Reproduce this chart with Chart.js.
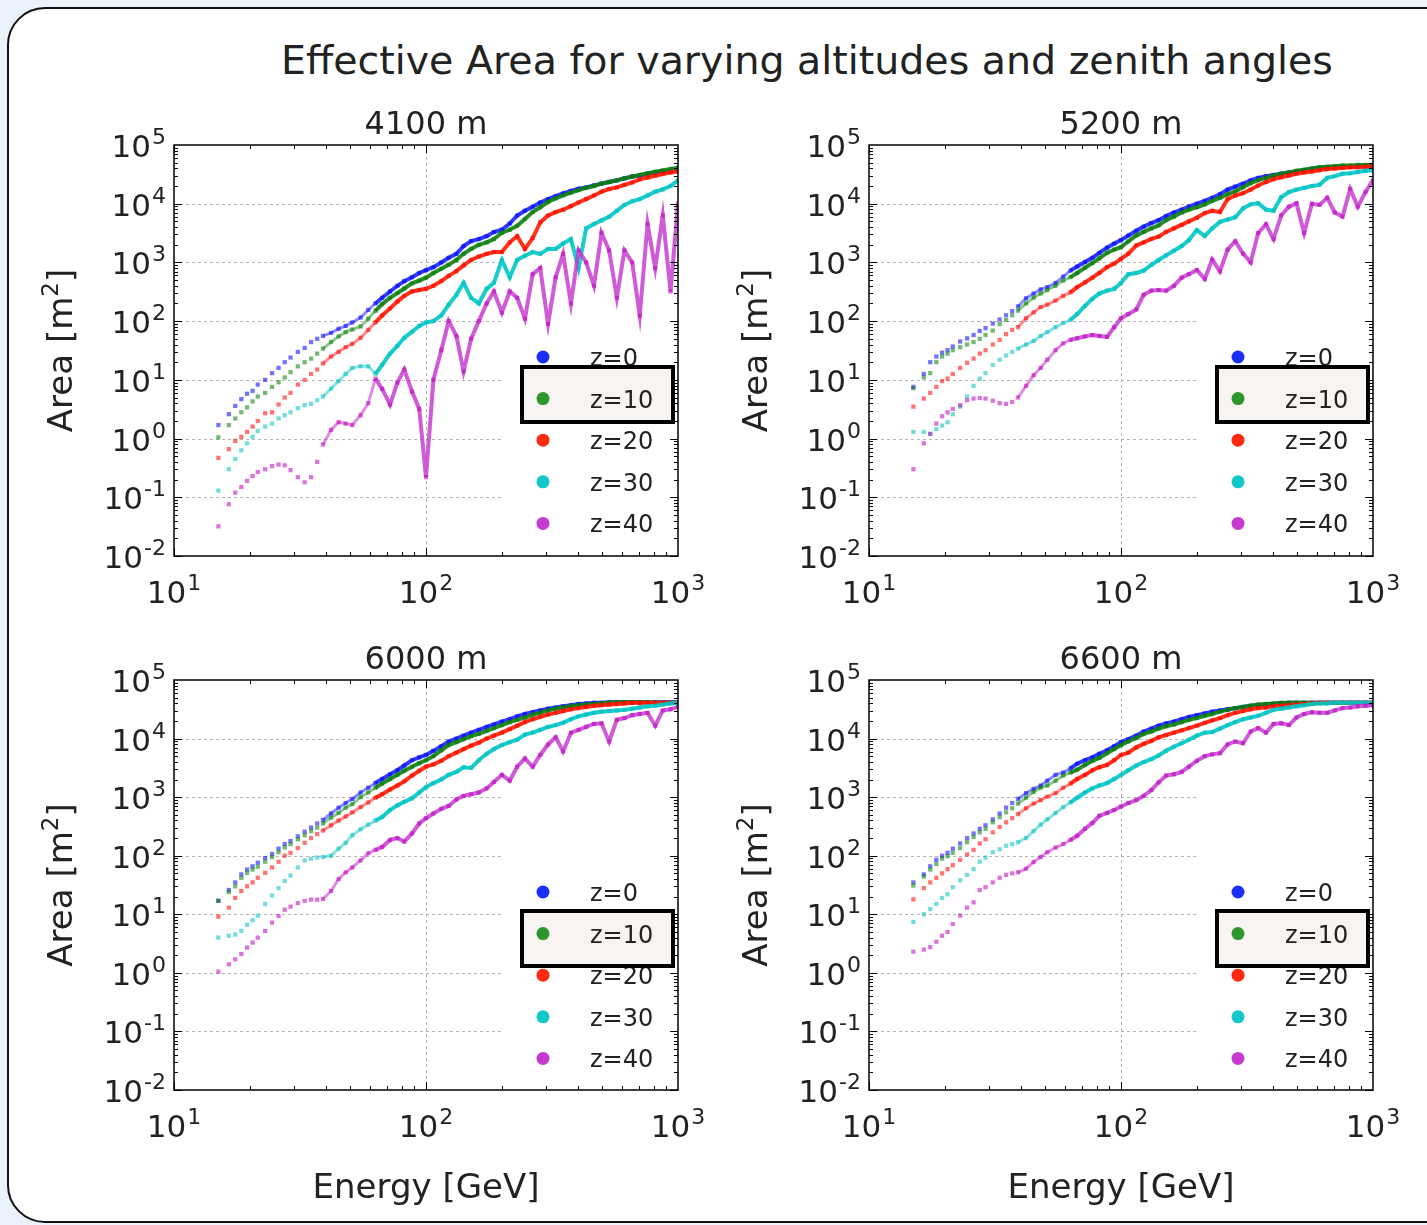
<!DOCTYPE html>
<html>
<head>
<meta charset="utf-8">
<script src="https://cdn.jsdelivr.net/npm/chart.js@4.4.1/dist/chart.umd.min.js"></script>
<style>
  html, body { margin: 0; padding: 0; width: 1427px; height: 1225px; overflow: hidden; background: #eaf2fb; }
  #frame { position: absolute; left: 7px; top: 7px; width: 1460px; height: 1216px; box-sizing: border-box;
           border: 2.5px solid #111; border-radius: 38px; background: #fff; }
  #title { position: absolute; left: 0; top: 41px; width: 1614px; text-align: center; white-space: nowrap;
           font: 39.5px/39px "DejaVu Sans", sans-serif; color: #222; }
  canvas { position: absolute; }
</style>
</head>
<body>
<div id="frame"></div>
<div id="title">Effective Area for varying altitudes and zenith angles</div>
<canvas id="p4100" width="713" height="546" style="left:0;top:90px"></canvas>
<canvas id="p5200" width="714" height="546" style="left:713px;top:90px"></canvas>
<canvas id="p6000" width="713" height="589" style="left:0;top:636px"></canvas>
<canvas id="p6600" width="714" height="589" style="left:713px;top:636px"></canvas>
<script>
// energy bins [GeV], shared by all curves
const energyGeV = [15, 16.5, 17.5, 18.5, 19.5, 20.5, 21.5, 23, 24.5, 26, 27.5, 29, 31, 33, 35, 37, 39, 42, 45, 48,
  51, 55, 59, 63, 67, 72, 77, 82, 88, 94, 100, 107, 115, 123, 132, 141, 151, 162, 174, 186,
  200, 215, 230, 247, 265, 284, 305, 327, 350, 376, 403, 432, 464, 497, 533, 572, 613, 658, 705, 757,
  812, 870, 934, 1000];

const zLabels = ['z=0', 'z=10', 'z=20', 'z=30', 'z=40'];
const xTickValues = [10, 100, 1000];
const xTickExp = ['1', '2', '3'];
const yTickValues = [0.01, 0.1, 1, 10, 100, 1000, 10000, 100000];
const yTickExp = ['-2', '-1', '0', '1', '2', '3', '4', '5'];

// effective area [m^2]
const area4100z0 = [1.7, 2.6, 3.6, 4.7, 5.8, 6.5, 8.3, 10, 13, 16, 20, 24, 30, 35, 44, 50, 56, 63, 74, 83,
  95, 115, 155, 200, 250, 320, 400, 480, 560, 660, 740, 830, 1000, 1200, 1400, 1900, 2300, 2500, 2800, 3300,
  3600, 4600, 6300, 7600, 8900, 10500, 12000, 13500, 15000, 16500, 18000, 19000, 20500, 22000, 23500, 25000, 27000, 29000, 30000, 32000,
  34000, 35500, 36500, 38000];
const area4100z10 = [1.05, 1.7, 2.2, 2.8, 3.4, 4.3, 5.2, 6.0, 7.6, 9.1, 11, 13.5, 17, 20, 23, 28, 34, 44, 55, 65,
  72, 81, 110, 150, 195, 250, 300, 360, 440, 490, 550, 660, 780, 910, 1100, 1400, 1700, 2000, 2200, 2500,
  3200, 3600, 4200, 5500, 7200, 8700, 10700, 12300, 13800, 15500, 17000, 18600, 20000, 22000, 23500, 25000, 27000, 29000, 31000, 33000,
  35000, 37000, 39000, 41000];
const area4100z20 = [0.47, 0.66, 0.91, 1.07, 1.3, 1.6, 2.0, 2.7, 2.8, 3.8, 5.0, 6.0, 8.3, 10, 12.6, 15, 19, 25, 30, 36,
  41, 52, 71, 95, 125, 165, 215, 270, 320, 340, 355, 400, 480, 590, 710, 890, 1100, 1260, 1400, 1500,
  1500, 2200, 2800, 1700, 2600, 4800, 6300, 7200, 7900, 9100, 10500, 12000, 13800, 16000, 17800, 19000, 21000, 23000, 26000, 28000,
  30000, 32000, 34000, 35500];
const area4100z30 = [0.13, 0.30, 0.45, 0.63, 0.83, 1.07, 1.35, 1.6, 1.8, 2.2, 2.5, 2.8, 3.3, 3.7, 3.9, 4.5, 5.2, 7.1, 9.5, 12.6,
  16, 17, 17, 12.6, 18, 28, 38, 52, 66, 83, 95, 100, 125, 190, 280, 450, 250, 200, 355, 450,
  1100, 560, 1100, 1300, 1500, 1400, 1700, 1700, 2100, 2500, 800, 3800, 4500, 5200, 6000, 7600, 9500, 11000, 12000, 13800,
  16000, 17500, 20000, 25000];
const area4100z40 = [0.032, 0.076, 0.12, 0.15, 0.19, 0.23, 0.27, 0.30, 0.34, 0.36, 0.35, 0.29, 0.22, 0.18, 0.22, 0.40, 0.79, 1.4, 1.9, 1.8,
  1.7, 2.5, 4.0, 10.5, 7, 3.8, 9, 15, 6.3, 3.2, 0.22, 10, 32, 100, 56, 14, 50, 100, 200, 320,
  140, 320, 250, 110, 630, 800, 90, 560, 1400, 200, 1600, 1000, 400, 3200, 1600, 250, 1600, 1000, 125, 4500,
  800, 6300, 320, 10000];

const area5200z0 = [7.6, 12.6, 20, 25, 29, 32, 37, 45, 51, 58, 68, 76, 91, 107, 126, 148, 178, 245, 295, 347,
  380, 447, 575, 724, 850, 1020, 1200, 1450, 1780, 2090, 2400, 2880, 3470, 4070, 4680, 5250, 6170, 7080, 7940, 8910,
  10000, 11200, 12600, 14500, 17400, 19500, 21900, 25100, 27500, 29500, 30900, 32400, 33900, 35500, 37200, 38900, 40700, 41700, 41700, 42700,
  42700, 43600, 43600, 43600];
const area5200z10 = [7.2, 11, 13, 20, 25, 28, 32, 36, 40, 44, 50, 58, 69, 89, 105, 126, 151, 200, 251, 295,
  339, 400, 490, 562, 661, 813, 977, 1170, 1450, 1660, 1820, 2290, 2880, 3310, 3800, 4270, 5250, 6030, 7080, 7940,
  8710, 9770, 11200, 12600, 14500, 16200, 19100, 22400, 25100, 27500, 30200, 32400, 33900, 36300, 38000, 39800, 41700, 42700, 43600, 44700,
  44700, 45700, 45700, 45700];
const area5200z20 = [3.5, 4.8, 6.0, 7.6, 9.5, 10.5, 12.6, 16, 19.5, 23, 28, 32, 40, 48, 60, 71, 79, 112, 141, 174,
  191, 224, 269, 309, 380, 457, 550, 661, 832, 955, 1150, 1410, 1950, 2190, 2510, 2750, 3310, 3800, 4370, 5010,
  5750, 6920, 7590, 7240, 12000, 13800, 15100, 17400, 20400, 23400, 26300, 28200, 30200, 32400, 33900, 35500, 37200, 38900, 39800, 40700,
  41700, 41700, 42700, 42700];
const area5200z30 = [1.3, 1.3, 1.2, 1.45, 1.66, 1.9, 2.6, 3.5, 5.2, 7.9, 10.5, 13, 18, 22, 26, 30, 34, 40, 46, 56,
  65, 79, 93, 105, 132, 182, 240, 295, 331, 355, 447, 631, 661, 724, 912, 1100, 1320, 1580, 1900, 2400,
  3550, 2820, 3800, 4900, 5370, 5890, 8320, 9770, 10200, 7940, 7590, 12900, 15800, 17400, 18600, 20000, 20900, 27500, 29500, 32400,
  33100, 34700, 36300, 37200];
const area5200z40 = [0.30, 0.83, 1.2, 1.8, 2.4, 2.8, 3.2, 3.7, 4.5, 4.8, 4.9, 4.8, 4.4, 4.0, 3.9, 4.2, 5.0, 7.9, 12, 16,
  22, 32, 42, 48, 51, 55, 58, 56, 54, 79, 112, 132, 158, 282, 331, 339, 331, 398, 550, 631,
  741, 525, 1120, 708, 1660, 2290, 1410, 1000, 3160, 4470, 2510, 6310, 8910, 10200, 3160, 10000, 9550, 12600, 7080, 6030,
  17800, 8910, 15800, 25100];

const area6000z0 = [17, 26, 35, 48, 58, 66, 76, 91, 107, 132, 158, 178, 214, 257, 302, 355, 407, 525, 661, 794,
  933, 1200, 1450, 1740, 2040, 2450, 2880, 3470, 4270, 4790, 5250, 6170, 7410, 8910, 10000, 11200, 12600, 14100, 15800, 17400,
  19500, 21400, 24000, 26300, 28200, 30200, 32400, 33900, 35500, 37200, 38900, 39800, 40700, 40700, 41700, 41700, 41700, 41700, 41700, 41700,
  41700, 41700, 41700, 41700];
const area6000z10 = [17, 24, 30, 42, 51, 58, 65, 79, 95, 115, 138, 158, 191, 224, 263, 302, 355, 447, 537, 661,
  759, 1000, 1200, 1450, 1700, 2040, 2400, 2820, 3310, 3800, 4270, 5010, 6310, 7760, 8710, 9770, 11000, 12000, 13500, 15100,
  17000, 19100, 20900, 22900, 25700, 27500, 30200, 32400, 33900, 35500, 37200, 38000, 38900, 39800, 40700, 41700, 41700, 41700, 41700, 41700,
  40700, 40700, 40700, 40700];
const area6000z20 = [9.1, 13, 19, 25, 30, 35, 42, 51, 63, 79, 100, 112, 135, 166, 200, 234, 269, 331, 398, 468,
  550, 676, 813, 977, 1120, 1350, 1580, 1860, 2340, 2820, 3310, 3630, 4170, 5010, 5750, 6610, 7590, 8510, 10000, 11200,
  12600, 14500, 16600, 19100, 21400, 23400, 25700, 27500, 29500, 31600, 33100, 34700, 36300, 37200, 38000, 38900, 39800, 40700, 40700, 40700,
  40700, 40700, 40700, 40700];
const area6000z30 = [4.0, 4.3, 4.5, 5.2, 6.6, 7.9, 9.5, 15, 21, 28, 37, 46, 63, 83, 89, 93, 95, 100, 132, 166,
  224, 282, 339, 398, 457, 603, 724, 832, 955, 1200, 1480, 1740, 2000, 2400, 2690, 3240, 3160, 4270, 5500, 6610,
  7760, 8710, 9550, 11700, 12600, 14100, 15800, 17000, 18600, 21400, 24000, 25700, 27500, 28800, 29500, 30200, 30900, 32400, 33900, 35500,
  36300, 38000, 39800, 40700];
const area6000z40 = [1.05, 1.4, 1.7, 2.1, 2.7, 3.3, 4.0, 5.2, 7.2, 9.3, 12, 13.5, 15.5, 17, 17.8, 17.8, 18.2, 25, 40, 52,
  63, 83, 110, 126, 141, 186, 200, 174, 240, 355, 437, 525, 631, 708, 912, 1050, 1120, 1200, 1410, 1820,
  2400, 1910, 3310, 4570, 3310, 5250, 7940, 10500, 6030, 12600, 14100, 15800, 17800, 18200, 8910, 20900, 22400, 25100, 26300, 27500,
  16600, 30200, 31600, 34700];

const area6600z0 = [35, 48, 66, 85, 100, 112, 132, 162, 200, 240, 288, 331, 417, 525, 661, 794, 933, 1170, 1380, 1580,
  1910, 2400, 2630, 3090, 3720, 4270, 4790, 5500, 6310, 7410, 8710, 9770, 11200, 13200, 14800, 16600, 18200, 19500, 21400, 23400,
  25100, 26900, 28800, 30200, 31600, 33100, 34700, 36300, 37200, 38000, 38900, 39800, 40700, 40700, 40700, 40700, 40700, 40700, 40700, 40700,
  40700, 40700, 40700, 40700];
const area6600z10 = [31, 44, 58, 72, 89, 98, 112, 135, 170, 209, 251, 288, 372, 457, 550, 646, 776, 977, 1230, 1450,
  1580, 1910, 2340, 2630, 2950, 3550, 4170, 4680, 5620, 6610, 7760, 8910, 10200, 12000, 13200, 14800, 16200, 17400, 19100, 20900,
  22400, 24500, 26300, 28800, 30900, 33100, 34700, 36300, 38000, 38900, 39800, 40700, 40700, 40700, 40700, 40700, 40700, 40700, 40700, 40700,
  40700, 40700, 40700, 40700];
const area6600z20 = [18, 28, 35, 42, 50, 59, 69, 85, 105, 126, 162, 191, 251, 309, 372, 437, 513, 646, 776, 891,
  1020, 1170, 1450, 1700, 2040, 2400, 2880, 3240, 3550, 4270, 5250, 5750, 7080, 8130, 9120, 10500, 11500, 12600, 13800, 15100,
  16600, 18600, 20400, 22400, 25100, 27500, 29500, 31600, 33100, 33900, 35500, 36300, 37200, 38000, 38900, 39800, 40700, 40700, 40700, 40700,
  40700, 40700, 40700, 40700];
const area6600z30 = [7.4, 10, 12.3, 15, 19, 22, 29, 38, 47, 59, 79, 93, 115, 129, 148, 158, 170, 200, 263, 339,
  417, 537, 676, 813, 977, 1200, 1410, 1580, 1740, 2040, 2400, 2880, 3470, 3980, 4470, 5130, 6170, 7240, 8320, 9550,
  11200, 12600, 12900, 14800, 17000, 19100, 21400, 22900, 24500, 27500, 30900, 32400, 33900, 35500, 37200, 38900, 39800, 39800, 40700, 40700,
  40700, 40700, 40700, 40700];
const area6600z40 = [2.3, 2.5, 2.75, 3.4, 4.3, 5.0, 6.8, 9.5, 13, 16, 26, 29, 35, 42, 47, 50, 52, 60, 78, 95,
  115, 138, 158, 186, 219, 288, 363, 479, 537, 603, 692, 794, 891, 1050, 1320, 1780, 2340, 2450, 2690, 3310,
  4170, 5010, 5370, 5620, 7940, 8910, 8320, 13200, 15100, 12600, 17800, 18200, 17000, 22900, 26300, 28200, 27500, 27500, 30200, 33100,
  33900, 35500, 36300, 37200];

const dotColors = ['rgba(0,0,255,0.55)', 'rgba(0,128,0,0.55)', 'rgba(255,0,0,0.55)', 'rgba(0,191,191,0.55)', 'rgba(191,0,191,0.55)'];
const fadeColors = ['rgba(0,0,255,0.45)', 'rgba(0,128,0,0.45)', 'rgba(255,0,0,0.45)', 'rgba(0,191,191,0.45)', 'rgba(191,0,191,0.45)'];
const lineColors = ['rgba(25,40,250,0.9)', 'rgba(20,128,20,0.9)', 'rgba(255,30,0,0.9)', 'rgba(0,200,200,0.9)', 'rgba(195,50,205,0.8)'];
const legendColors = ['#1a2ff5', '#2e962e', '#ff2a10', '#12c8c8', '#c63ad2'];

const FONT = '"DejaVu Sans", sans-serif';
const TEXT = '#222';

function drawPow(ctx, exp, px, base, align) {
  ctx.font = '31px ' + FONT;
  const w1 = ctx.measureText('10').width;
  ctx.font = '22px ' + FONT;
  const w2 = ctx.measureText(exp).width;
  const total = w1 + w2 + 1;
  const left = align === 'right' ? px - total : px - total / 2;
  ctx.textAlign = 'left';
  ctx.textBaseline = 'alphabetic';
  ctx.font = '31px ' + FONT;
  ctx.fillText('10', left, base);
  ctx.font = '22px ' + FONT;
  ctx.fillText(exp, left + w1 + 1, base - 13);
}

function decor(title, boxTop, showXTitle) {
  return {
    id: 'decor',
    beforeDatasetsDraw(chart) {
      const { ctx, chartArea: a, scales: { x, y } } = chart;
      ctx.save();
      ctx.strokeStyle = '#b4b4b4';
      ctx.lineWidth = 1;
      ctx.setLineDash([3, 3]);
      ctx.beginPath();
      const gx = Math.round(x.getPixelForValue(100)) + 0.5;
      ctx.moveTo(gx, a.top);
      ctx.lineTo(gx, a.bottom);
      const xEnd = a.left + (a.right - a.left) * 0.65;
      yTickValues.slice(1, -1).forEach(v => {
        const py = Math.round(y.getPixelForValue(v)) + 0.5;
        ctx.moveTo(a.left, py);
        ctx.lineTo(xEnd, py);
      });
      ctx.stroke();
      ctx.restore();
    },
    afterDatasetsDraw(chart) {
      const { ctx, chartArea: a, scales: { x, y } } = chart;
      ctx.save();
      // ticks, inside on all four sides
      ctx.strokeStyle = '#000';
      ctx.lineWidth = 1;
      ctx.beginPath();
      for (let k = 1; k < 3; k++) {
        for (let m = 1; m < 10; m++) {
          const px = Math.round(x.getPixelForValue(m * Math.pow(10, k))) + 0.5;
          const len = m === 1 ? 8 : 4;
          ctx.moveTo(px, a.bottom); ctx.lineTo(px, a.bottom - len);
          ctx.moveTo(px, a.top); ctx.lineTo(px, a.top + len);
        }
      }
      for (let k = -2; k < 5; k++) {
        for (let m = 1; m < 10; m++) {
          const py = Math.round(y.getPixelForValue(m * Math.pow(10, k))) + 0.5;
          const len = m === 1 ? 8 : 4;
          ctx.moveTo(a.left, py); ctx.lineTo(a.left + len, py);
          ctx.moveTo(a.right, py); ctx.lineTo(a.right - len, py);
        }
      }
      ctx.stroke();
      ctx.lineWidth = 1.5;
      ctx.strokeRect(a.left, a.top, a.right - a.left, a.bottom - a.top);

      // tick labels
      ctx.fillStyle = TEXT;
      yTickValues.forEach((v, i) => drawPow(ctx, yTickExp[i], a.left - 8, y.getPixelForValue(v) + 12, 'right'));
      xTickValues.forEach((v, i) => drawPow(ctx, xTickExp[i], x.getPixelForValue(v), a.bottom + 47, 'center'));

      // panel title
      const cx = (a.left + a.right) / 2;
      ctx.font = '32px ' + FONT;
      ctx.textAlign = 'center';
      ctx.fillText(title, cx, a.top - 11);

      // y axis title
      ctx.save();
      ctx.translate(a.left - 102, (a.top + a.bottom) / 2);
      ctx.rotate(-Math.PI / 2);
      ctx.textAlign = 'left';
      ctx.font = '34px ' + FONT;
      const s1 = 'Area [m', s3 = ']';
      const w1 = ctx.measureText(s1).width, w3 = ctx.measureText(s3).width;
      ctx.font = '23px ' + FONT;
      const w2 = ctx.measureText('2').width;
      const sx = -(w1 + w2 + w3) / 2;
      ctx.font = '34px ' + FONT;
      ctx.fillText(s1, sx, 0);
      ctx.font = '23px ' + FONT;
      ctx.fillText('2', sx + w1, -14);
      ctx.font = '34px ' + FONT;
      ctx.fillText(s3, sx + w1 + w2, 0);
      ctx.restore();

      if (showXTitle) {
        ctx.font = '34px ' + FONT;
        ctx.textAlign = 'center';
        ctx.fillText('Energy [GeV]', cx, a.bottom + 108);
      }

      // legend
      const lx = a.left + 369, tx = a.left + 416, ly0 = a.top + 212, dy = 41.6;
      const entry = i => {
        const ly = ly0 + i * dy;
        ctx.fillStyle = legendColors[i];
        ctx.beginPath();
        ctx.arc(lx, ly, 6.5, 0, Math.PI * 2);
        ctx.fill();
        ctx.fillStyle = TEXT;
        ctx.font = '24px ' + FONT;
        ctx.textAlign = 'left';
        ctx.fillText(zLabels[i], tx, ly + 9);
      };
      zLabels.forEach((_, i) => entry(i));
      ctx.fillStyle = '#f7f4f2';
      ctx.fillRect(a.left + 348, a.top + boxTop, 151, 55);
      ctx.lineWidth = 4;
      ctx.strokeStyle = '#000';
      ctx.strokeRect(a.left + 348, a.top + boxTop, 151, 55);
      entry(1);
      ctx.restore();
    }
  };
}

function makePanel(id, title, series, pad, boxTop, showXTitle) {
  new Chart(document.getElementById(id), {
    type: 'scatter',
    data: {
      datasets: series.map((ys, i) => ({
        label: zLabels[i],
        data: energyGeV.map((e, j) => ({ x: e, y: ys[j] })),
        showLine: true,
        borderColor: lineColors[i],
        borderWidth: 4,
        segment: {
          borderColor: c => (c.p0.parsed.x < 38 ? 'rgba(0,0,0,0)' : c.p0.parsed.x < 60 ? fadeColors[i] : undefined),
          borderWidth: c => (c.p0.parsed.x < 60 ? 3 : undefined)
        },
        pointStyle: 'rect',
        pointRadius: 3,
        pointBorderWidth: 0,
        pointBackgroundColor: dotColors[i],
        order: 4 - i
      }))
    },
    options: {
      responsive: false,
      animation: false,
      devicePixelRatio: 1,
      events: [],
      layout: { padding: pad },
      plugins: { legend: { display: false }, tooltip: { enabled: false } },
      scales: {
        x: { type: 'logarithmic', min: 10, max: 1000, display: false },
        y: { type: 'logarithmic', min: 0.01, max: 100000, display: false }
      }
    },
    plugins: [decor(title, boxTop, showXTitle)]
  });
}

makePanel('p4100', '4100 m', [area4100z0, area4100z10, area4100z20, area4100z30, area4100z40],
  { left: 174, top: 55, right: 35, bottom: 80 }, 222, false);
makePanel('p5200', '5200 m', [area5200z0, area5200z10, area5200z20, area5200z30, area5200z40],
  { left: 156, top: 55, right: 54, bottom: 80 }, 222, false);
makePanel('p6000', '6000 m', [area6000z0, area6000z10, area6000z20, area6000z30, area6000z40],
  { left: 174, top: 44, right: 35, bottom: 135 }, 231, true);
makePanel('p6600', '6600 m', [area6600z0, area6600z10, area6600z20, area6600z30, area6600z40],
  { left: 156, top: 44, right: 54, bottom: 135 }, 231, true);
</script>
</body>
</html>
